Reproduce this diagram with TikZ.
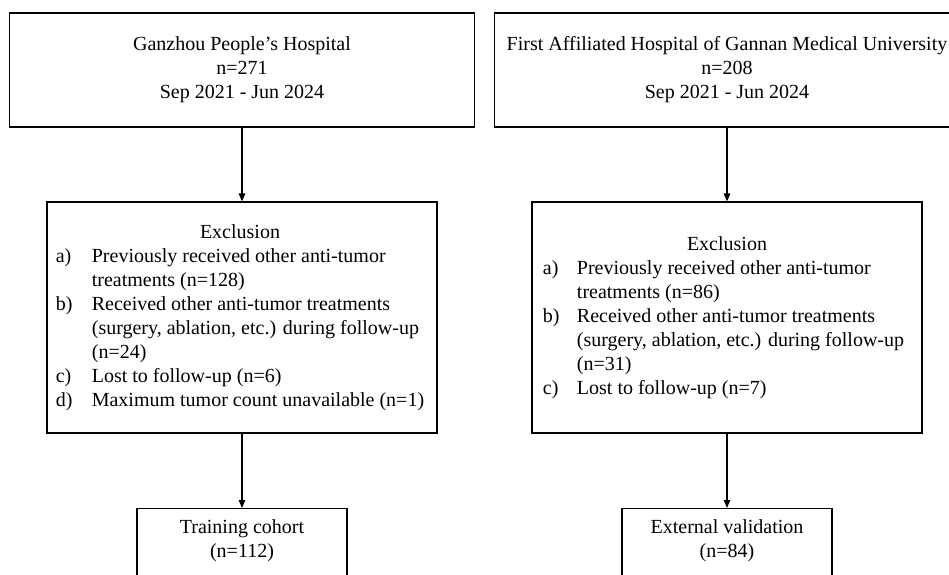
\documentclass[tikz,border=0pt]{standalone}
\usepackage{fontspec}
\setmainfont{Liberation Serif}
\usetikzlibrary{arrows.meta}
\begin{document}
\begin{tikzpicture}[x=1pt,y=-1pt,
  box/.style={draw, line width=1.2pt, inner sep=0pt, align=center,
    font=\fontsize{20}{24}\selectfont},
  endbox/.style={box, anchor=north, minimum width=210pt, inner ysep=8.2pt},
  arr/.style={-{Triangle[width=6.5pt,length=8pt]}, line width=1.2pt}]
\useasboundingbox (0,0) rectangle (949,574);
\clip (0,0) rectangle (949,574);
% top boxes
\node[box, minimum width=465.5pt, minimum height=114pt] (h1) at (242,70)
  {Ganzhou People’s Hospital\\n=271\\Sep 2021 - Jun 2024};
\node[box, minimum width=465pt, minimum height=114pt] (h2) at (727,70)
  {First Affiliated Hospital of Gannan Medical University\\n=208\\Sep 2021 - Jun 2024};
% exclusion boxes
\node[box, minimum width=390pt, minimum height=231pt] (e1) at (242,317.5)
  {\begin{tabular}{@{}p{36pt}@{}l@{}}
   \multicolumn{2}{@{}c@{}}{Exclusion}\\
   a) & Previously received other anti-tumor\\
      & treatments (n=128)\\
   b) & Received other anti-tumor treatments\\
      & (surgery, ablation, etc.) during follow-up\\
      & (n=24)\\
   c) & Lost to follow-up (n=6)\\
   d) & Maximum tumor count unavailable (n=1)
   \end{tabular}\hspace{4pt}};
\node[box, minimum width=390pt, minimum height=231pt] (e2) at (727,317.5)
  {\begin{tabular}{@{}p{34pt}@{}l@{}}
   \multicolumn{2}{@{}c@{}}{\hspace{7pt}Exclusion}\\
   a) & Previously received other anti-tumor\\
      & treatments (n=86)\\
   b) & Received other anti-tumor treatments\\
      & (surgery, ablation, etc.) during follow-up\\
      & (n=31)\\
   c) & Lost to follow-up (n=7)
   \end{tabular}\hspace{7pt}};
% bottom boxes
\node[endbox] (t1) at (242,508)
  {\strut Training cohort\\(n=112)\rule[-30pt]{0pt}{0pt}};
\node[endbox] (t2) at (727,508)
  {\strut External validation\\(n=84)\rule[-30pt]{0pt}{0pt}};
% arrows
\draw[arr] (h1) -- (e1);
\draw[arr] (e1) -- (t1);
\draw[arr] (h2) -- (e2);
\draw[arr] (e2) -- (t2);
\end{tikzpicture}
\end{document}
